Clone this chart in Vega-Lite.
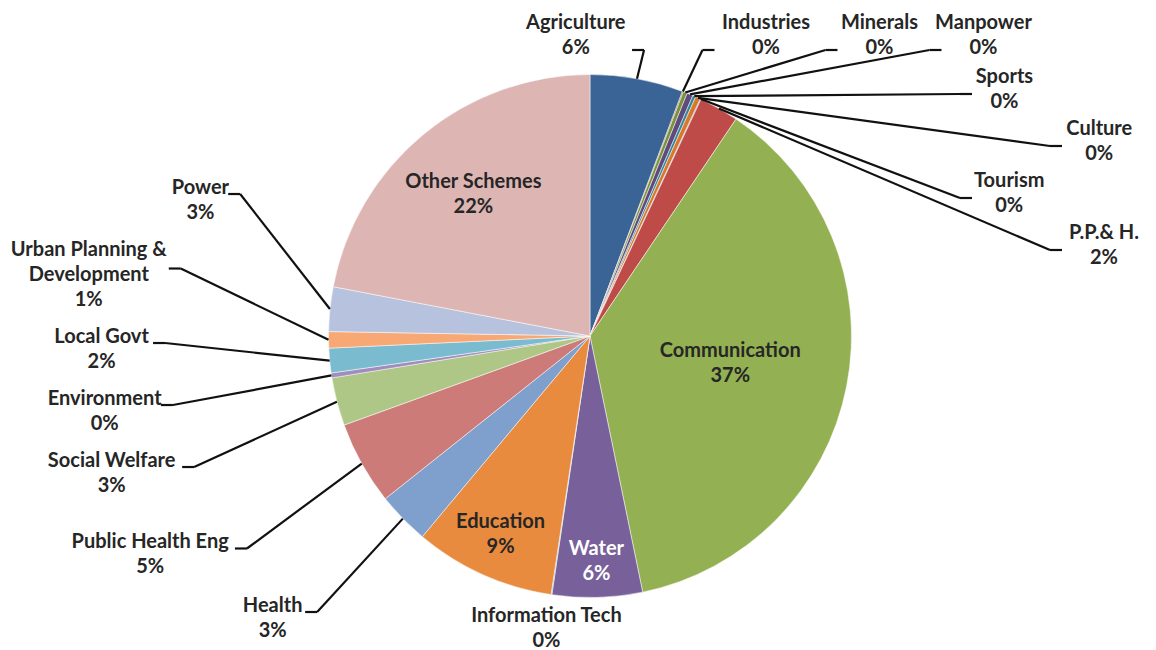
{
  "$schema": "https://vega.github.io/schema/vega-lite/v6.json",
  "width": 1156,
  "height": 650,
  "autosize": "none",
  "padding": 0,
  "background": "#ffffff",
  "config": {"view": {"stroke": null}},
  "data": {
    "values": [
      {"name": "Agriculture", "value": 5.75},
      {"name": "Industries", "value": 0.06},
      {"name": "Minerals", "value": 0.25},
      {"name": "Manpower", "value": 0.37},
      {"name": "Sports", "value": 0.19},
      {"name": "Culture", "value": 0.31},
      {"name": "Tourism", "value": 0.05},
      {"name": "P.P.& H.", "value": 2.45},
      {"name": "Communication", "value": 37.34},
      {"name": "Water", "value": 5.56},
      {"name": "Information Tech", "value": 0.05},
      {"name": "Education", "value": 8.70},
      {"name": "Health", "value": 3.23},
      {"name": "Public Health Eng", "value": 5.16},
      {"name": "Social Welfare", "value": 2.97},
      {"name": "Environment", "value": 0.30},
      {"name": "Local Govt", "value": 1.52},
      {"name": "Urban Planning &\nDevelopment", "value": 1.01},
      {"name": "Power", "value": 2.75},
      {"name": "Other Schemes", "value": 21.98}
    ]
  },
  "transform": [
    {"window": [{"op": "row_number", "as": "idx"}]},
    {"joinaggregate": [{"op": "sum", "field": "value", "as": "total"}]},
    {"stack": "value", "groupby": [], "sort": [{"field": "idx", "order": "ascending"}], "as": ["v0", "v1"]},
    {"calculate": "PI * (datum.v0 + datum.v1) / datum.total", "as": "mid"},
    {"calculate": "sin(datum.mid)", "as": "ex"},
    {"calculate": "cos(datum.mid)", "as": "ey"},
    {"calculate": "indexof(datum.name, '\\n') < 0 ? length(datum.name) : max(indexof(datum.name, '\\n'), length(datum.name) - indexof(datum.name, '\\n') - 1)", "as": "nlen"},
    {"calculate": "indexof(datum.name, '\\n') < 0 ? 2 : 3", "as": "nlines"},
    {"calculate": "datum.nlen * 0.0344 <= 4.398 * datum.value / datum.total", "as": "inside"},
    {"calculate": "datum.name + '\\n' + format(datum.value / datum.total, '.0%')", "as": "label"},
    {"calculate": "datum.ex >= 0 ? 'R' : 'L'", "as": "side"}
  ],
  "layer": [
    {
      "mark": {"type": "arc", "outerRadius": 261.5, "stroke": "#ffffff", "strokeWidth": 0.5},
      "encoding": {
        "x": {"datum": 0, "type": "quantitative", "scale": {"domain": [-2.25621, 2.16444], "nice": false, "zero": false}, "axis": null},
        "y": {"datum": 0, "type": "quantitative", "scale": {"domain": [-1.20076, 1.28489], "nice": false, "zero": false}, "axis": null},
        "theta": {"field": "v1", "type": "quantitative", "stack": null, "scale": {"nice": false, "zero": true}},
        "theta2": {"field": "v0"},
        "color": {
          "field": "name",
          "type": "nominal",
          "legend": null,
          "scale": {
            "domain": ["Agriculture", "Industries", "Minerals", "Manpower", "Sports", "Culture", "Tourism", "P.P.& H.", "Communication", "Water", "Information Tech", "Education", "Health", "Public Health Eng", "Social Welfare", "Environment", "Local Govt", "Urban Planning &\nDevelopment", "Power", "Other Schemes"],
            "range": ["#3A6496", "#953735", "#77933C", "#604A7B", "#31859C", "#D9782B", "#4F81BD", "#BE4B48", "#93B153", "#78609A", "#4BACC6", "#E98B3F", "#7F9FCC", "#CC7B79", "#AEC786", "#A18DBC", "#7BBBD0", "#F7A874", "#B7C3DE", "#DDB6B4"]
          }
        }
      }
    },
    {
      "transform": [
        {"filter": "!datum.inside"},
        {"calculate": "cos(datum.mid) < -0.9 ? 'C' : datum.side", "as": "grp"},
        {"calculate": "datum.grp === 'L' ? -datum.idx : datum.idx", "as": "ord"},
        {"calculate": "datum.nlen * 9.5", "as": "w"},
        {"calculate": "datum.grp === 'R' && sin(datum.mid) < 0.2", "as": "tl"},
        {"calculate": "datum.grp === 'L' ? datum.nlines * 25 + 12 : (datum.tl ? 10 : 28 + datum.w)", "as": "e"},
        {"calculate": "datum.grp === 'L' ? 336 - 380 * cos(datum.mid) - datum.e / 2 : (datum.mid < 80 * PI / 180 ? 296 * tan(datum.mid) : 2000)", "as": "n"},
        {"window": [{"op": "sum", "field": "e", "as": "Wi"}], "frame": [null, 0], "groupby": ["grp"], "sort": [{"field": "ord", "order": "ascending"}]},
        {"calculate": "datum.Wi - datum.e", "as": "W"},
        {"calculate": "datum.n - datum.W", "as": "q"},
        {"window": [{"op": "max", "field": "q", "as": "qmax"}], "frame": [null, 0], "groupby": ["grp"], "sort": [{"field": "ord", "order": "ascending"}]},
        {"window": [{"op": "min", "field": "q", "as": "qmin"}], "frame": [0, null], "groupby": ["grp"], "sort": [{"field": "ord", "order": "ascending"}]},
        {"calculate": "datum.grp === 'L' ? datum.W + 0.3 * datum.qmax + 0.7 * datum.qmin : datum.W + datum.qmax", "as": "t"},
        {"calculate": "datum.grp === 'R' && datum.t > 400 ? 1 : 0", "as": "incol"},
        {"window": [{"op": "sum", "field": "incol", "as": "colidx"}], "frame": [null, 0], "groupby": ["grp"], "sort": [{"field": "ord", "order": "ascending"}]},
        {"calculate": "datum.grp === 'L' ? min(datum.t + datum.e / 2 - 6, 612) : (datum.incol ? 42 + 52 * datum.colidx : 50)", "as": "Ay"},
        {"calculate": "datum.grp === 'L' ? 590 - 425 * sqrt(max(0, 1 - pow((datum.Ay - 336) / (datum.Ay < 336 ? 250 : 360), 2))) : (datum.incol ? (datum.colidx % 2 === 1 ? 960 : 1050) : 590 + datum.t)", "as": "Ax"},
        {"calculate": "datum.grp === 'L' || datum.tl ? -1 : 1", "as": "sgn"},
        {"calculate": "datum.Ax + 12 * datum.sgn", "as": "Bx"},
        {"calculate": "datum.grp === 'C' ? 590 + 295.5 * sin(datum.mid) : datum.Bx + datum.sgn * (4 + datum.w / 2)", "as": "Tx"},
        {"calculate": "datum.grp === 'C' ? 336 - 295.5 * cos(datum.mid) : (datum.grp === 'L' ? datum.Ay + 6 : (datum.incol ? datum.Ay - 4 : 36))", "as": "Tc"},
        {"calculate": "datum.Tc - (datum.nlines - 1) * 12.5", "as": "Ty"},
        {"calculate": "(datum.Ax - 590) / 261.5", "as": "ax"},
        {"calculate": "(336 - datum.Ay) / 261.5", "as": "ay"},
        {"calculate": "(datum.Bx - 590) / 261.5", "as": "bx"},
        {"calculate": "(datum.Tx - 590) / 261.5", "as": "tx"},
        {"calculate": "(336 - datum.Ty) / 261.5", "as": "ty"}
      ],
      "layer": [
        {
          "transform": [{"filter": "datum.grp !== 'C'"}],
          "mark": {"type": "rule", "color": "#111111", "strokeWidth": 2.2},
          "encoding": {
            "x": {"field": "ex", "type": "quantitative", "scale": {"domain": [-2.25621, 2.16444], "nice": false, "zero": false}, "axis": null},
            "y": {"field": "ey", "type": "quantitative", "scale": {"domain": [-1.20076, 1.28489], "nice": false, "zero": false}, "axis": null},
            "x2": {"field": "ax"},
            "y2": {"field": "ay"}
          }
        },
        {
          "transform": [{"filter": "datum.grp !== 'C'"}],
          "mark": {"type": "rule", "color": "#111111", "strokeWidth": 2.2},
          "encoding": {
            "x": {"field": "ax", "type": "quantitative", "scale": {"domain": [-2.25621, 2.16444], "nice": false, "zero": false}, "axis": null},
            "y": {"field": "ay", "type": "quantitative", "scale": {"domain": [-1.20076, 1.28489], "nice": false, "zero": false}, "axis": null},
            "x2": {"field": "bx"},
            "y2": {"field": "ay"}
          }
        },
        {
          "mark": {"type": "text", "font": "Lato", "fontWeight": "bold", "fontSize": 20, "lineHeight": 25, "lineBreak": "\n", "align": "center", "baseline": "middle", "color": "#262626"},
          "encoding": {
            "x": {"field": "tx", "type": "quantitative", "scale": {"domain": [-2.25621, 2.16444], "nice": false, "zero": false}, "axis": null},
            "y": {"field": "ty", "type": "quantitative", "scale": {"domain": [-1.20076, 1.28489], "nice": false, "zero": false}, "axis": null},
            "text": {"field": "label"}
          }
        }
      ]
    },
    {
      "transform": [
        {"filter": "datum.inside"},
        {"calculate": "0.92 - datum.value / datum.total", "as": "r"},
        {"calculate": "datum.r * datum.ex", "as": "tx"},
        {"calculate": "datum.r * datum.ey + 12.5 / 261.5", "as": "ty"}
      ],
      "mark": {"type": "text", "font": "Lato", "fontWeight": "bold", "fontSize": 20, "lineHeight": 25, "lineBreak": "\n", "align": "center", "baseline": "middle"},
      "encoding": {
        "x": {"field": "tx", "type": "quantitative", "scale": {"domain": [-2.25621, 2.16444], "nice": false, "zero": false}, "axis": null},
        "y": {"field": "ty", "type": "quantitative", "scale": {"domain": [-1.20076, 1.28489], "nice": false, "zero": false}, "axis": null},
        "text": {"field": "label"},
        "color": {"condition": {"test": "datum.name === 'Water'", "value": "#ffffff"}, "value": "#262626"}
      }
    }
  ]
}
